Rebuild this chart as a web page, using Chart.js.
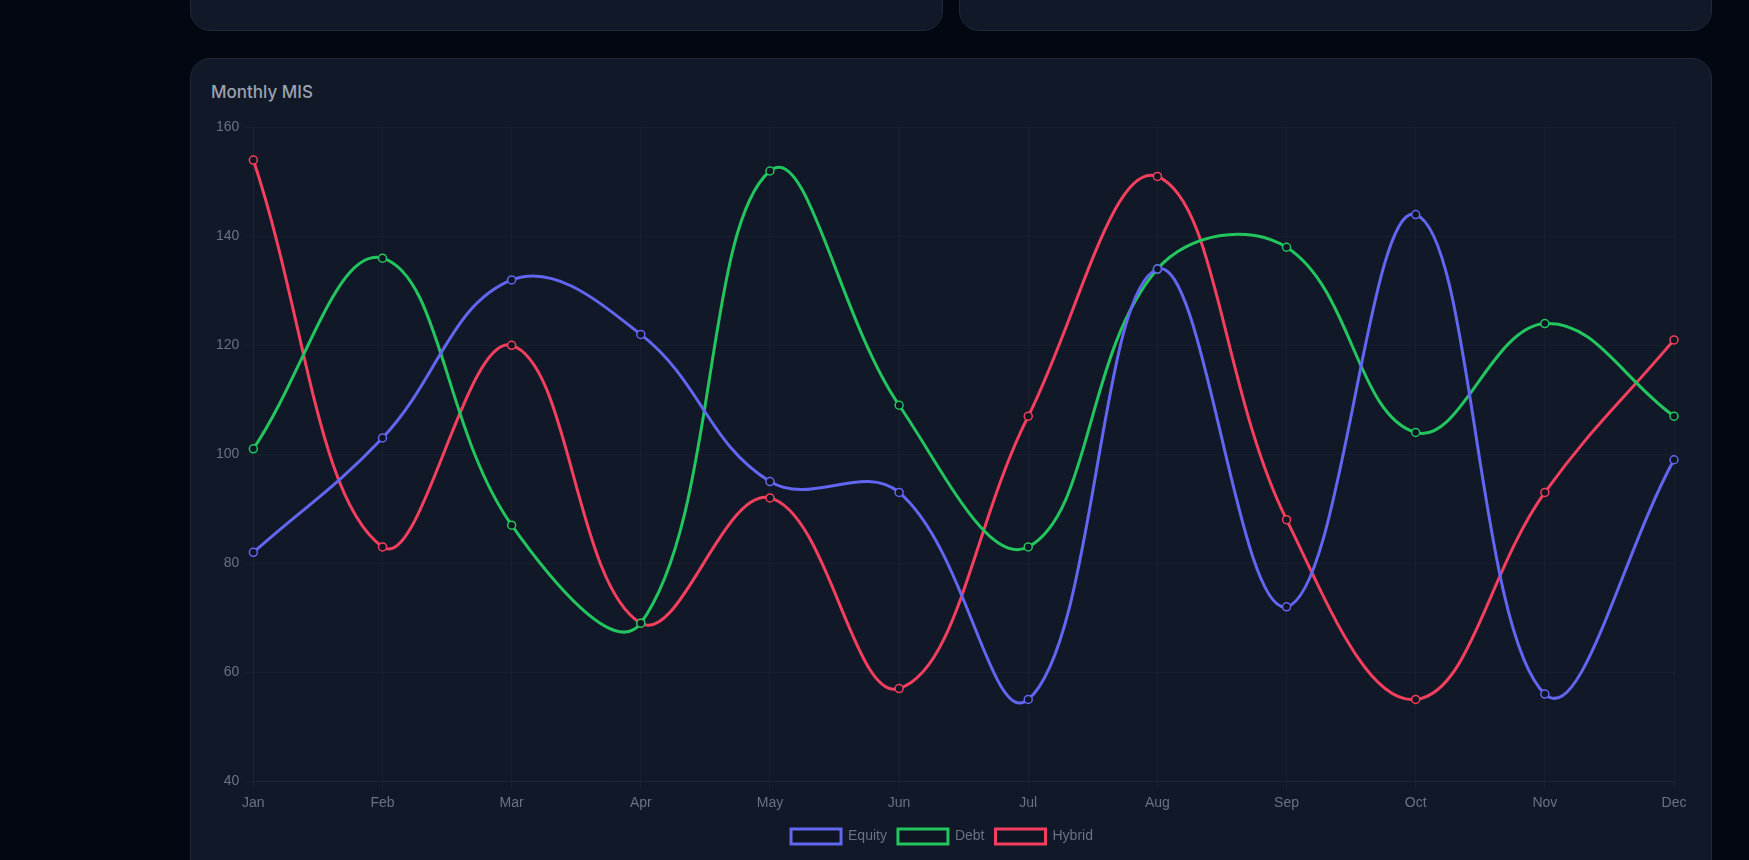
<!DOCTYPE html>
<html>
<head>
<meta charset="utf-8">
<script src="https://cdn.jsdelivr.net/npm/chart.js@4.4.1/dist/chart.umd.min.js"></script>
<style>
  html, body { margin: 0; padding: 0; background: #030712; width: 1749px; height: 860px; overflow: hidden; }
  .card { position: absolute; background: #111827; border: 1px solid #1f2937; border-radius: 20px; box-sizing: border-box; }
  #c1 { left: 190px; top: -200px; width: 753px; height: 231px; }
  #c2 { left: 959px; top: -200px; width: 753px; height: 231px; }
  #main { left: 190px; top: 58px; width: 1522px; height: 840px; }
  #title { position: absolute; left: 20px; top: 23px; font-family: Inter, "Noto Sans", sans-serif; font-weight: 500; font-size: 17px; color: #9ca3af; }
  #wrap { position: absolute; left: 17px; top: 54px; width: 1485px; height: 741px; }
</style>
</head>
<body>
<div class="card" id="c1"></div>
<div class="card" id="c2"></div>
<div class="card" id="main">
  <div id="title">Monthly MIS</div>
  <div id="wrap"><canvas id="chart"></canvas></div>
</div>
<script>
const months = ["Jan","Feb","Mar","Apr","May","Jun","Jul","Aug","Sep","Oct","Nov","Dec"];
const equity = [82, 103, 132, 122, 95, 93, 55, 134, 72, 144, 56, 99];
const debt   = [101, 136, 87, 69, 152, 109, 83, 134, 138, 104, 124, 107];
const hybrid = [154, 83, 120, 69, 92, 57, 107, 151, 88, 55, 93, 121];
const seriesNames = ["Equity", "Debt", "Hybrid"];

const colors = ["#6366f1", "#22c55e", "#f43f5e"];
const fill = "#0f1522";
const series = [equity, debt, hybrid];
const gridColor = "rgba(255,255,255,0.03)";
const tickFont = { size: 14, family: "'Liberation Sans', Arial, sans-serif" };

new Chart(document.getElementById("chart"), {
  type: "line",
  data: {
    labels: months,
    datasets: series.map((d, i) => ({
      label: seriesNames[i],
      data: d,
      borderColor: colors[i],
      backgroundColor: fill,
      pointBackgroundColor: fill,
      pointBorderColor: colors[i],
      borderWidth: 3,
      pointRadius: 4,
      pointBorderWidth: 1.5,
      tension: 0.4,
      fill: false
    }))
  },
  options: {
    responsive: true,
    maintainAspectRatio: false,
    animation: false,
    layout: { padding: { left: 2, right: 19, top: 13, bottom: 0 } },
    plugins: {
      legend: {
        position: "bottom",
        labels: {
          color: "#6b7280",
          font: tickFont,
          boxWidth: 50,
          boxHeight: 15,
          padding: 11
        }
      },
      tooltip: { enabled: false }
    },
    scales: {
      x: {
        grid: { color: gridColor },
        border: { color: gridColor },
        ticks: { color: "#6b7280", font: tickFont, padding: 6 }
      },
      y: {
        min: 40,
        max: 160,
        grid: { color: gridColor },
        border: { color: gridColor },
        ticks: { stepSize: 20, color: "#6b7280", font: tickFont, padding: 6 }
      }
    }
  }
});
</script>
</body>
</html>
